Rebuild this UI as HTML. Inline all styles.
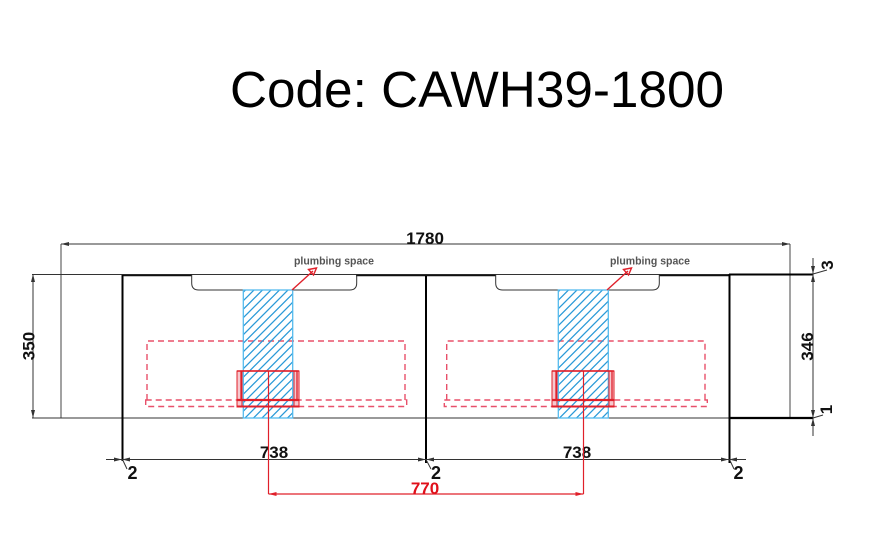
<!DOCTYPE html>
<html><head><meta charset="utf-8"><style>
html,body{margin:0;padding:0;background:#fff;}
svg{display:block;}
</style></head><body>
<svg width="869" height="560" viewBox="0 0 869 560" xmlns="http://www.w3.org/2000/svg">
<defs>
<pattern id="h" patternUnits="userSpaceOnUse" width="8.5" height="8.5">
<path d="M-2,2 L2,-2 M0,8.5 L8.5,0 M6.5,10.5 L10.5,6.5" stroke="#2a9ad8" stroke-width="1.3"/>
</pattern>
</defs>
<rect width="869" height="560" fill="#fff"/>
<text x="230" y="107" font-family="Liberation Sans, Arial, sans-serif" font-size="51" textLength="494" lengthAdjust="spacingAndGlyphs" fill="#000">Code: CAWH39-1800</text>

<!-- 1780 dimension -->
<line x1="61" y1="244" x2="790" y2="244" stroke="#333" stroke-width="1"/>
<path d="M61,244 L69,242 L69,246Z M790,244 L782,242 L782,246Z" fill="#333"/>
<line x1="61" y1="244" x2="61" y2="418" stroke="#444" stroke-width="1"/>
<line x1="790" y1="244" x2="790" y2="418" stroke="#444" stroke-width="1"/>
<text x="425" y="244" text-anchor="middle" font-family="Liberation Sans, Arial, sans-serif" font-weight="bold" font-size="17" fill="#111">1780</text>

<!-- top lines -->
<line x1="32" y1="274.5" x2="813" y2="274.5" stroke="#333" stroke-width="1.1"/>
<line x1="122" y1="275.5" x2="192" y2="275.5" stroke="#111" stroke-width="1.6"/>
<line x1="356" y1="275.5" x2="496" y2="275.5" stroke="#111" stroke-width="1.6"/>
<line x1="659" y1="275.5" x2="729" y2="275.5" stroke="#111" stroke-width="1.6"/>
<line x1="729" y1="274.5" x2="813" y2="274.5" stroke="#000" stroke-width="2"/>

<!-- bottom lines -->
<line x1="32" y1="418" x2="729" y2="418" stroke="#333" stroke-width="1"/>
<line x1="729" y1="418" x2="813" y2="418" stroke="#000" stroke-width="2.2"/>

<!-- basin cutouts -->
<path d="M191.7,275 L191.7,283 Q191.7,290 198.7,290 L349.7,290 Q356.7,290 356.7,283 L356.7,275" fill="none" stroke="#333" stroke-width="1"/>
<path d="M495.7,275 L495.7,283 Q495.7,290 502.7,290 L652.3,290 Q659.3,290 659.3,283 L659.3,275" fill="none" stroke="#333" stroke-width="1"/>

<!-- cabinet verticals -->
<line x1="122.5" y1="275" x2="122.5" y2="461" stroke="#000" stroke-width="2"/>
<line x1="426" y1="276" x2="426" y2="463" stroke="#000" stroke-width="2"/>
<line x1="729.5" y1="274" x2="729.5" y2="463" stroke="#000" stroke-width="2"/>

<!-- 350 dim -->
<line x1="33" y1="274" x2="33" y2="418" stroke="#333" stroke-width="1"/>
<path d="M33,274 L31,282 L35,282Z M33,418 L31,410 L35,410Z" fill="#333"/>
<text transform="translate(34.5,346) rotate(-90)" text-anchor="middle" font-family="Liberation Sans, Arial, sans-serif" font-weight="bold" font-size="17" fill="#111">350</text>

<!-- 346 dim -->
<line x1="813" y1="258" x2="813" y2="436" stroke="#333" stroke-width="1"/>
<path d="M813,274 L811,266 L815,266Z M813,274 L811,282 L815,282Z M813,418 L811,410 L815,410Z M813,418 L811,426 L815,426Z" fill="#333"/>
<text transform="translate(813,346.5) rotate(-90)" text-anchor="middle" font-family="Liberation Sans, Arial, sans-serif" font-weight="bold" font-size="17" fill="#111">346</text>
<line x1="813" y1="274" x2="827" y2="270" stroke="#333" stroke-width="1"/>
<text transform="translate(833,265) rotate(-90)" text-anchor="middle" font-family="Liberation Sans, Arial, sans-serif" font-weight="bold" font-size="17" fill="#111">3</text>
<line x1="813" y1="418" x2="823" y2="415" stroke="#333" stroke-width="1"/>
<text transform="translate(832,409.5) rotate(-90)" text-anchor="middle" font-family="Liberation Sans, Arial, sans-serif" font-weight="bold" font-size="17" fill="#111">1</text>

<!-- 738 dims -->
<line x1="106" y1="459.5" x2="746" y2="459.5" stroke="#333" stroke-width="1"/>
<path d="M122,459.5 L114,457.5 L114,461.5Z M122,459.5 L130,457.5 L130,461.5Z M426,459.5 L418,457.5 L418,461.5Z M426,459.5 L434,457.5 L434,461.5Z M729,459.5 L721,457.5 L721,461.5Z M729,459.5 L737,457.5 L737,461.5Z" fill="#333"/>
<text x="274" y="458" text-anchor="middle" font-family="Liberation Sans, Arial, sans-serif" font-weight="bold" font-size="17" fill="#111">738</text>
<text x="577" y="458" text-anchor="middle" font-family="Liberation Sans, Arial, sans-serif" font-weight="bold" font-size="17" fill="#111">738</text>
<line x1="122.5" y1="459.5" x2="127" y2="469" stroke="#333" stroke-width="1"/>
<line x1="426" y1="459.5" x2="431" y2="469" stroke="#333" stroke-width="1"/>
<line x1="729.5" y1="459.5" x2="734" y2="469" stroke="#333" stroke-width="1"/>
<text x="127.5" y="479" font-family="Liberation Sans, Arial, sans-serif" font-weight="bold" font-size="18" fill="#111">2</text>
<text x="431" y="479" font-family="Liberation Sans, Arial, sans-serif" font-weight="bold" font-size="18" fill="#111">2</text>
<text x="733.5" y="479" font-family="Liberation Sans, Arial, sans-serif" font-weight="bold" font-size="18" fill="#111">2</text>

<!-- red dashed rects -->
<g fill="none" stroke="#e8506a" stroke-width="1.4" stroke-dasharray="6 4">
<path d="M147,400 L147,341 L405,341 L405,400"/>
<rect x="145.7" y="400" width="261" height="6.5"/>
<path d="M446.7,400 L446.7,341 L705,341 L705,400"/>
<rect x="444.3" y="400" width="263" height="6.5"/>
</g>

<!-- blue hatched -->
<rect x="243.3" y="290" width="49.4" height="128" fill="url(#h)" stroke="#55bbee" stroke-width="1.3"/>
<rect x="558.3" y="290" width="50" height="128" fill="url(#h)" stroke="#55bbee" stroke-width="1.3"/>

<!-- red brackets -->
<g stroke="#e0202a" fill="none">
<rect x="237" y="371" width="5" height="36" fill="#f6c8ce" stroke-width="1"/>
<rect x="294" y="371" width="5" height="36" fill="#f6c8ce" stroke-width="1"/>
<rect x="241" y="371" width="56" height="29" stroke-width="1.3"/>
<line x1="237" y1="371" x2="299" y2="371" stroke-width="1.6"/>
<line x1="237" y1="400" x2="299" y2="400" stroke-width="2.2"/>
<line x1="237" y1="406.5" x2="299" y2="406.5" stroke-width="2"/>
<line x1="268.5" y1="371" x2="268.5" y2="494" stroke-width="1.2"/>

<rect x="552" y="371" width="5" height="36" fill="#f6c8ce" stroke-width="1"/>
<rect x="609" y="371" width="5" height="36" fill="#f6c8ce" stroke-width="1"/>
<rect x="556" y="371" width="56" height="29" stroke-width="1.3"/>
<line x1="552" y1="371" x2="614" y2="371" stroke-width="1.6"/>
<line x1="552" y1="400" x2="614" y2="400" stroke-width="2.2"/>
<line x1="552" y1="406.5" x2="614" y2="406.5" stroke-width="2"/>
<line x1="583.5" y1="371" x2="583.5" y2="494" stroke-width="1.2"/>

<line x1="268.5" y1="494" x2="583.5" y2="494" stroke-width="1.2"/>
</g>
<path d="M268.5,494 L276.5,492 L276.5,496Z M583.5,494 L575.5,492 L575.5,496Z" fill="#e0202a"/>
<text x="425" y="494" text-anchor="middle" font-family="Liberation Sans, Arial, sans-serif" font-weight="bold" font-size="17" fill="#e0101a">770</text>

<!-- plumbing space -->
<text x="294" y="264.5" font-family="Liberation Sans, Arial, sans-serif" font-size="11" font-weight="bold" textLength="80" lengthAdjust="spacingAndGlyphs" fill="#555">plumbing space</text>
<text x="610" y="264.5" font-family="Liberation Sans, Arial, sans-serif" font-size="11" font-weight="bold" textLength="80" lengthAdjust="spacingAndGlyphs" fill="#555">plumbing space</text>
<g stroke="#e0202a" stroke-width="1.4" fill="none">
<line x1="292" y1="290" x2="313" y2="271"/>
<polygon points="316.5,268 308.5,269.5 313.5,275"/>
<line x1="607" y1="290" x2="628" y2="271"/>
<polygon points="631.5,268 623.5,269.5 628.5,275"/>
</g>
</svg>
</body></html>
